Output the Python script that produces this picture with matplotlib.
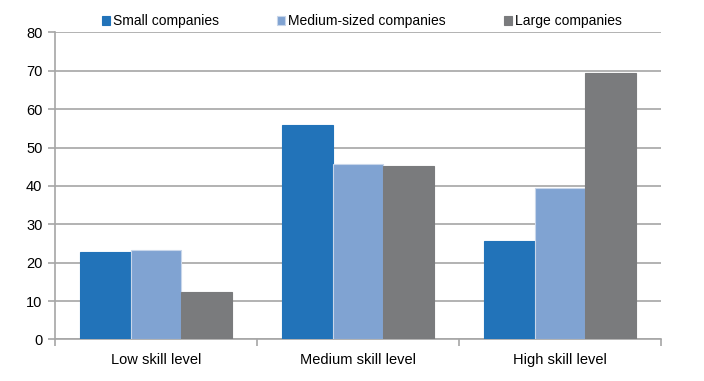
import numpy as np
import matplotlib
matplotlib.use("Agg")
import matplotlib.pyplot as plt

plt.rcParams["font.family"] = ["Liberation Sans", "DejaVu Sans"]

categories = ["Low skill level", "Medium skill level", "High skill level"]
series_names = ["Small companies", "Medium-sized companies", "Large companies"]
small = [22.9, 55.9, 25.7]
medium = [23.4, 45.8, 39.5]
large = [12.3, 45.3, 69.4]
colors = ["#2273B9", "#80A3D2", "#7A7B7D"]

grey = "#A6A6A6"

fig = plt.figure(figsize=(7.04, 3.81), dpi=100)
ax = fig.add_axes([0.078, 0.109, 0.861, 0.806])

x = np.arange(len(categories))
width = 0.25
for i, (values, name, color) in enumerate(zip([small, medium, large], series_names, colors)):
    edge = "#C8D6EA" if i == 1 else color
    ax.bar(x + (i - 1) * width, values, width, color=color, label=name,
           edgecolor=edge, linewidth=0.8, zorder=3)

ax.set_xlim(-0.5, len(categories) - 0.5)
ax.set_ylim(0, 80)
ax.set_yticks(range(0, 81, 10))
ax.yaxis.grid(True, color=grey, linewidth=1.2, zorder=0)

# category boundaries get the tick marks, labels sit between them
ax.set_xticks(np.arange(-0.5, len(categories), 1))
ax.set_xticklabels([])
ax.set_xticks(x, minor=True)
ax.set_xticklabels(categories, minor=True)
ax.tick_params(axis="x", which="major", length=5, color=grey, width=1.2)
ax.tick_params(axis="x", which="minor", length=0, pad=10, labelsize=10.5)
ax.tick_params(axis="y", length=5, color=grey, width=1.2, labelsize=10.5, pad=4)

for side in ["top", "right"]:
    ax.spines[side].set_visible(False)
for side in ["left", "bottom"]:
    ax.spines[side].set_color(grey)
    ax.spines[side].set_linewidth(1.2)

fig.legend(loc="upper center", bbox_to_anchor=(0.514, 0.995), ncol=3, frameon=False,
           fontsize=10, handlelength=0.6, handleheight=0.6, handletextpad=0.2,
           columnspacing=4.2)

fig.savefig("out.png", dpi=100)
